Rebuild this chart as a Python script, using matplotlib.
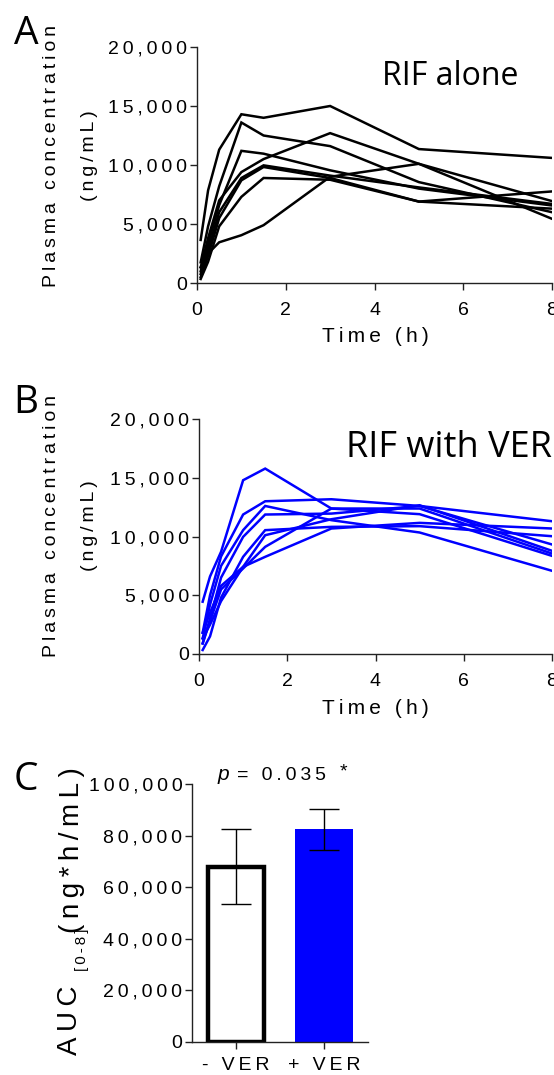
import numpy as np
import matplotlib.pyplot as plt

# sampling times (h)
time_h = [0.083, 0.25, 0.5, 1, 1.5, 3, 5, 8]

# RIF alone, plasma concentration (ng/mL), one row per subject
rif_alone = [
    [3650, 7850, 11300, 14300, 14000, 15000, 11350, 10600],
    [1750, 4800, 8200, 13600, 12500, 11600, 8550, 6000],
    [1330, 3800, 7000, 9400, 10500, 12700, 10100, 6940],
    [1000, 3300, 6600, 11200, 10960, 9550, 8000, 6570],
    [760, 2800, 6000, 8900, 9970, 9100, 8100, 6700],
    [500, 2300, 5500, 8700, 9830, 8900, 6900, 7760],
    [340, 1800, 4800, 7300, 8900, 8750, 6900, 6300],
    [1330, 2500, 3450, 4050, 4900, 9000, 10100, 5440],
]

# RIF with VER
rif_ver = [
    [4450, 6600, 8700, 14790, 15780, 12380, 11900, 8350],
    [1810, 5000, 8300, 11870, 13000, 13170, 12600, 9320],
    [1330, 4200, 7500, 10540, 12600, 11390, 10340, 7080],
    [900, 3000, 6500, 9970, 11870, 11950, 12600, 11300],
    [340, 1500, 4800, 8270, 10540, 10820, 10880, 10025],
    [1330, 2500, 4500, 7420, 10110, 11470, 12660, 8780],
    [900, 2800, 5500, 7280, 9120, 12380, 12380, 8550],
    [1810, 3500, 5800, 7420, 8270, 10680, 11160, 10680],
]

# AUC 0-8 (ng*h/mL)
groups = ['- VER', '+ VER']
auc_mean = [68000, 82500]
auc_err = [14500, 8000]

TICK_FONT = ['Liberation Sans', 'DejaVu Sans']
BIG_FONT = ['Open Sans', 'DejaVu Sans']


def sp(s):
    # wide letter spacing like the original figure
    return '\u2009'.join(s)


def style_axes(ax, size=14):
    for side in ('top', 'right'):
        ax.spines[side].set_visible(False)
    for side in ('left', 'bottom'):
        ax.spines[side].set_linewidth(1.0)
        ax.spines[side].set_color('#222222')
    ax.tick_params(direction='out', length=5, width=1.0, color='#222222',
                   labelsize=size)
    ax.tick_params(axis='y', pad=2)
    ax.tick_params(axis='x', pad=9)


def conc_panel(ax, data, color):
    for row in data:
        ax.plot(time_h, row, color=color, lw=1.8, solid_joinstyle='miter')
    ax.set_xlim(0, 8)
    ax.set_ylim(0, 20000)
    ax.set_xticks([0, 2, 4, 6, 8])
    ax.set_yticks([0, 5000, 10000, 15000, 20000])
    ax.set_xticklabels([sp(str(v)) for v in [0, 2, 4, 6, 8]], family=TICK_FONT)
    ax.set_yticklabels([sp(f'{v:,}') for v in [0, 5000, 10000, 15000, 20000]],
                       family=TICK_FONT)
    style_axes(ax)


fig = plt.figure(figsize=(5.54, 10.75), dpi=100)
W, H = 554, 1075


def box(x0, y_top, x1, y_bot):
    return [x0 / W, 1 - y_bot / H, (x1 - x0) / W, (y_bot - y_top) / H]


# --- A: RIF alone ----------------------------------------------------
axA = fig.add_axes(box(197, 47, 552, 283))
conc_panel(axA, rif_alone, 'black')
axA.text(0.905, 0.875, 'RIF alone', transform=axA.transAxes, ha='right',
         va='center', fontsize=23, family=BIG_FONT)

# --- B: RIF with VER -------------------------------------------------
axB = fig.add_axes(box(199, 419, 552, 654))
conc_panel(axB, rif_ver, '#0000ff')
axB.text(1.0, 0.875, 'RIF with VER', transform=axB.transAxes, ha='right',
         va='center', fontsize=26, family=BIG_FONT)

for y_mid, y_x in [(156, 337), (526, 708)]:
    fig.text(52 / W, 1 - y_mid / H, sp('Plasma concentration'), rotation=90,
             ha='center', va='center', fontsize=14, family=TICK_FONT)
    fig.text(89 / W, 1 - y_mid / H, sp('(ng/mL)'), rotation=90,
             ha='center', va='center', fontsize=14, family=TICK_FONT)
    fig.text(375 / W, 1 - y_x / H, sp('Time (h)'), ha='center', va='center',
             fontsize=15, family=TICK_FONT)

# --- C: AUC bars -----------------------------------------------------
axC = fig.add_axes(box(192, 784, 368, 1042))
x = np.arange(len(groups))
axC.bar(x[0], auc_mean[0], width=0.64, facecolor='white', edgecolor='black',
        linewidth=3.2)
axC.bar(x[1], auc_mean[1], width=0.66, color='#0000ff', linewidth=0)
axC.errorbar(x, auc_mean, yerr=auc_err, fmt='none', ecolor='black',
             elinewidth=1.0, capsize=11, capthick=1.0)
axC.set_xlim(-0.5, 1.5)
axC.set_ylim(0, 100000)
axC.set_xticks(x)
axC.set_xticklabels([sp(g) for g in groups], family=TICK_FONT)
ticks = [0, 20000, 40000, 60000, 80000, 100000]
axC.set_yticks(ticks)
axC.set_yticklabels([sp(f'{v:,}') for v in ticks], family=TICK_FONT)
style_axes(axC, size=14)
axC.tick_params(axis='x', pad=6)

fig.text(218 / W, 1 - 775 / H, 'p', ha='left', va='center', fontsize=15,
         style='italic', family=TICK_FONT)
fig.text(237 / W, 1 - 775 / H, sp('= 0.035'), ha='left',
         va='center', fontsize=14, family=TICK_FONT)
fig.text(343 / W, 1 - 772 / H, '*', ha='center',
         va='center', fontsize=14, family=TICK_FONT)

fig.text(70 / W, 1 - 1020 / H, sp('AUC'), rotation=90, ha='center',
         va='center', fontsize=20, family=TICK_FONT)
fig.text(82 / W, 1 - 950 / H, sp('[0-8]'), rotation=90, ha='center',
         va='center', fontsize=11, family=TICK_FONT)
fig.text(72 / W, 1 - 850 / H, sp('(ng*h/mL)'), rotation=90, ha='center',
         va='center', fontsize=20, family=TICK_FONT)

# panel letters
for letter, y in [('A', 34), ('B', 403), ('C', 780)]:
    fig.text(26 / W, 1 - y / H, letter, ha='center', va='center',
             fontsize=28, family=BIG_FONT)

fig.savefig('out.png', dpi=100)
